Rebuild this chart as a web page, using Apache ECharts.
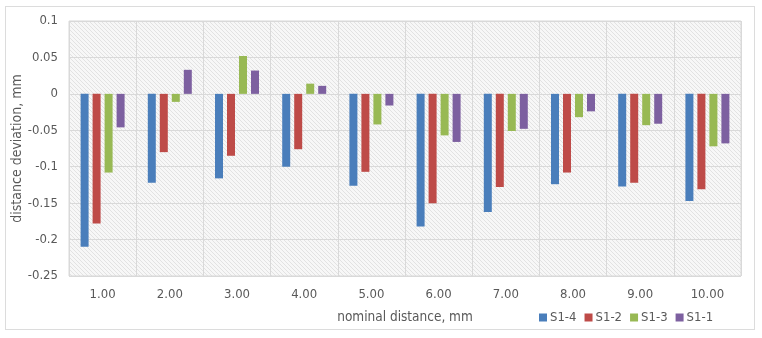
<!DOCTYPE html>
<html>
<head>
<meta charset="utf-8">
<script src="https://cdn.jsdelivr.net/npm/echarts@6/dist/echarts.min.js"></script>
<style>
html,body{margin:0;padding:0;background:#fff;}
#frame{position:absolute;left:5px;top:6px;width:750px;height:324px;border:1px solid #dcdcdc;box-sizing:border-box;}
#chart{position:absolute;left:0;top:0;width:762px;height:338px;}
</style>
</head>
<body>
<div id="frame"></div>
<div id="chart"></div>
<script>
const categories = ['1.00','2.00','3.00','4.00','5.00','6.00','7.00','8.00','9.00','10.00'];
const seriesNames = ['S1-4','S1-2','S1-3','S1-1'];
const s14 = [-0.210,-0.122,-0.116,-0.100,-0.126,-0.182,-0.162,-0.124,-0.127,-0.147];
const s12 = [-0.178,-0.080,-0.085,-0.076,-0.107,-0.150,-0.128,-0.108,-0.122,-0.131];
const s13 = [-0.108,-0.011,0.052,0.014,-0.042,-0.057,-0.051,-0.032,-0.043,-0.072];
const s11 = [-0.046,0.033,0.032,0.011,-0.016,-0.066,-0.048,-0.024,-0.041,-0.068];
const colors = ['#4a7ebb','#be4b48','#98b954','#7d60a0'];

function hatch(){
  const n = 4;
  const c = document.createElement('canvas');
  c.width = n; c.height = n;
  const g = c.getContext('2d');
  g.fillStyle = '#f7f7f7'; g.fillRect(0,0,n,n);
  g.strokeStyle = '#e2e2e2'; g.lineWidth = 1;
  g.beginPath();
  g.moveTo(-1,-1); g.lineTo(n+1,n+1);
  g.moveTo(-1,n-1); g.lineTo(1,n+1);
  g.moveTo(n-1,-1); g.lineTo(n+1,1);
  g.stroke();
  return c;
}

const chart = echarts.init(document.getElementById('chart'), null, {renderer:'canvas'});
const font = 'DejaVu Sans Condensed, DejaVu Sans';
const txt = '#595959';
chart.setOption({
  animation:false,
  textStyle:{fontFamily:font},
  grid:{left:69,right:21,top:21,bottom:62,outerBoundsMode:'none',containLabel:false,show:true,
    backgroundColor:{image:hatch(),repeat:'repeat'},borderColor:'#d9d9d9',borderWidth:1},
  legend:{
    data:seriesNames, left:534, top:306, itemWidth:8, itemHeight:8, itemGap:8,
    icon:'rect', textStyle:{color:txt,fontSize:13,fontFamily:font,padding:[0,0,0,-2]}
  },
  xAxis:{
    type:'category', data:categories,
    name:'nominal distance, mm', nameLocation:'middle', nameGap:34, nameMoveOverlap:false,
    nameTextStyle:{color:txt,fontSize:13.5,fontFamily:font},
    axisLine:{show:false}, axisTick:{show:false},
    axisLabel:{color:txt,fontSize:13,margin:12,fontFamily:font},
    splitLine:{show:true,lineStyle:{color:'#d9d9d9',width:1}}
  },
  yAxis:{
    type:'value', min:-0.25, max:0.1, interval:0.05,
    name:'distance deviation, mm', nameLocation:'middle', nameGap:52, nameMoveOverlap:false,
    nameTextStyle:{color:txt,fontSize:14,fontFamily:font,padding:[0,0,-7,0]},
    axisLine:{show:false}, axisTick:{show:false},
    axisLabel:{color:txt,fontSize:13,margin:11,fontFamily:font,
      formatter:function(v){ const r=Math.round(v*100)/100; return r===0?'0':String(r); }},
    splitLine:{show:true,lineStyle:{color:'#d9d9d9',width:1}}
  },
  series:[
    {name:seriesNames[0],type:'bar',data:s14,barWidth:8,barGap:'50%',itemStyle:{color:colors[0]}},
    {name:seriesNames[1],type:'bar',data:s12,barWidth:8,barGap:'50%',itemStyle:{color:colors[1]}},
    {name:seriesNames[2],type:'bar',data:s13,barWidth:8,barGap:'50%',itemStyle:{color:colors[2]}},
    {name:seriesNames[3],type:'bar',data:s11,barWidth:8,barGap:'50%',itemStyle:{color:colors[3]}}
  ]
});
</script>
</body>
</html>
